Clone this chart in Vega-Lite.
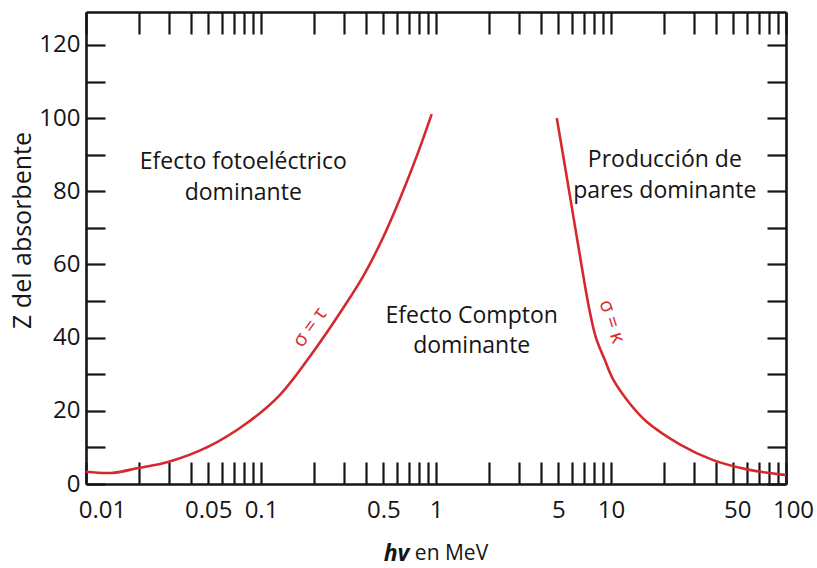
{
  "$schema": "https://vega.github.io/schema/vega-lite/v6.json",
  "width": 700,
  "height": 472,
  "autosize": {"type": "none"},
  "padding": {"left": 86, "top": 12, "right": 31, "bottom": 84},
  "background": "white",
  "config": {
    "view": {"stroke": null},
    "font": "Open Sans",
    "axis": {
      "grid": false,
      "domainColor": "#151515",
      "domainWidth": 2.6,
      "tickColor": "#151515",
      "tickWidth": 2.2,
      "labelFont": "Open Sans",
      "labelFontSize": 24,
      "labelColor": "#151515",
      "titleFont": "Open Sans",
      "titleFontSize": 21,
      "titleColor": "#151515",
      "titleFontWeight": "normal"
    }
  },
  "datasets": {
    "tau": [
      {"energy": 0.01, "z": 3.35},
      {"energy": 0.0143, "z": 3.05},
      {"energy": 0.0198, "z": 4.35},
      {"energy": 0.0294, "z": 6.0},
      {"energy": 0.05, "z": 10.2},
      {"energy": 0.0828, "z": 16.6},
      {"energy": 0.128, "z": 24.3},
      {"energy": 0.2, "z": 36.3},
      {"energy": 0.295, "z": 48.1},
      {"energy": 0.384, "z": 56.8},
      {"energy": 0.5, "z": 67.5},
      {"energy": 0.623, "z": 78.0},
      {"energy": 0.776, "z": 89.6},
      {"energy": 0.945, "z": 101.1}
    ],
    "kappa": [
      {"energy": 4.9, "z": 100},
      {"energy": 5.45, "z": 87},
      {"energy": 6.1, "z": 73},
      {"energy": 6.8, "z": 59.5},
      {"energy": 7.5, "z": 48},
      {"energy": 8.2, "z": 40},
      {"energy": 9.2, "z": 34},
      {"energy": 10.3, "z": 28.5},
      {"energy": 12.8, "z": 22},
      {"energy": 16, "z": 17},
      {"energy": 25, "z": 10.7},
      {"energy": 38, "z": 6.6},
      {"energy": 60, "z": 4.0},
      {"energy": 90, "z": 2.7},
      {"energy": 100, "z": 2.5}
    ],
    "regions": [
      {"energy": 0.0792, "z": 88.0, "label": "Efecto fotoeléctrico"},
      {"energy": 0.0792, "z": 79.6, "label": "dominante"},
      {"energy": 1.6, "z": 45.9, "label": "Efecto Compton"},
      {"energy": 1.6, "z": 37.6, "label": "dominante"},
      {"energy": 20.3, "z": 88.5, "label": "Producción de"},
      {"energy": 20.3, "z": 80.2, "label": "pares dominante"}
    ],
    "tauLabel": [{"energy": 0.1905, "z": 42.8, "label": "σ = τ"}],
    "kappaLabel": [{"energy": 10.1, "z": 44.4, "label": "σ = κ"}]
  },
  "layer": [
    {
      "data": {"name": "tau"},
      "mark": {"type": "line", "color": "#d42a2e", "strokeWidth": 2.6, "interpolate": "catmull-rom"},
      "encoding": {
        "x": {
          "field": "energy", "type": "quantitative",
          "scale": {"type": "log", "domain": [0.01, 100]},
          "axis": {
            "orient": "bottom",
            "values": [0.01,0.02,0.03,0.04,0.05,0.06,0.07,0.08,0.09,0.1,0.2,0.3,0.4,0.5,0.6,0.7,0.8,0.9,1,2,3,4,5,6,7,8,9,10,20,30,40,50,60,70,80,90,100],
            "format": "~g",
            "labelExpr": "indexof([0.01,0.05,0.1,0.5,1,5,10,50,100], datum.value) >= 0 ? datum.label : ''",
            "labelOffset": {"condition": [{"test": "datum.value < 0.011", "value": 16}, {"test": "datum.value > 95", "value": 7}, {"test": "datum.value > 45 && datum.value < 55", "value": 4}], "value": 0},
            "labelFlush": false,
            "tickSize": -22,
            "labelPadding": 36,
            "labelOverlap": false,
            "title": "hv",
            "titleFontSize": 23,
            "titleFontWeight": "bold",
            "titleFontStyle": "italic",
            "titleX": 310,
            "titleY": 69,
            "titleBaseline": "middle",
            "titleAlign": "center"
          }
        },
        "y": {
          "field": "z", "type": "quantitative",
          "scale": {"domain": [0, 129]},
          "axis": {
            "orient": "left",
            "values": [0,10,20,30,40,50,60,70,80,90,100,110,120],
            "labelExpr": "datum.value % 20 == 0 ? datum.label : ''",
            "tickSize": -19,
            "labelPadding": 25,
            "labelOverlap": false,
            "title": "Z del absorbente",
            "titleFontSize": 25,
            "titleX": -64,
            "titleY": 218,
            "titleAngle": -90,
            "titleBaseline": "middle",
            "titleAlign": "center"
          }
        }
      }
    },
    {
      "data": {"name": "kappa"},
      "mark": {"type": "line", "color": "#d42a2e", "strokeWidth": 2.6, "interpolate": "catmull-rom"},
      "encoding": {
        "x": {
          "field": "energy", "type": "quantitative",
          "scale": {"type": "log", "domain": [0.01, 100]},
          "axis": {
            "orient": "top",
            "values": [0.01,0.02,0.03,0.04,0.05,0.06,0.07,0.08,0.09,0.1,0.2,0.3,0.4,0.5,0.6,0.7,0.8,0.9,1,2,3,4,5,6,7,8,9,10,20,30,40,50,60,70,80,90,100],
            "labels": false,
            "tickSize": -22,
            "title": null
          }
        },
        "y": {
          "field": "z", "type": "quantitative",
          "scale": {"domain": [0, 129]},
          "axis": {
            "orient": "right",
            "values": [0,10,20,30,40,50,60,70,80,90,100,110,120],
            "labels": false,
            "tickSize": -19,
            "title": null
          }
        }
      }
    },
    {
      "data": {"name": "regions"},
      "mark": {"type": "text", "font": "Open Sans", "fontSize": 23, "align": "center", "baseline": "middle", "color": "#151515"},
      "encoding": {
        "x": {
          "field": "energy", "type": "quantitative",
          "scale": {"type": "log", "domain": [0.01, 100]},
          "axis": {
            "orient": "bottom",
            "domain": false,
            "ticks": false,
            "labels": false,
            "title": "en MeV",
            "titleFontSize": 21,
            "titleX": 365,
            "titleY": 69,
            "titleBaseline": "middle",
            "titleAlign": "center"
          }
        },
        "y": {
          "field": "z", "type": "quantitative",
          "scale": {"domain": [0, 129]},
          "axis": null
        },
        "text": {"field": "label"}
      }
    },
    {
      "data": {"name": "tauLabel"},
      "mark": {"type": "text", "font": "Open Sans", "fontSize": 20, "angle": -54, "align": "center", "baseline": "middle", "color": "#d42a2e"},
      "encoding": {
        "x": {"field": "energy", "type": "quantitative", "scale": {"type": "log", "domain": [0.01, 100]}, "axis": null},
        "y": {"field": "z", "type": "quantitative", "scale": {"domain": [0, 129]}, "axis": null},
        "text": {"field": "label"}
      }
    },
    {
      "data": {"name": "kappaLabel"},
      "mark": {"type": "text", "font": "Open Sans", "fontSize": 20, "angle": 72, "align": "center", "baseline": "middle", "color": "#d42a2e"},
      "encoding": {
        "x": {"field": "energy", "type": "quantitative", "scale": {"type": "log", "domain": [0.01, 100]}, "axis": null},
        "y": {"field": "z", "type": "quantitative", "scale": {"domain": [0, 129]}, "axis": null},
        "text": {"field": "label"}
      }
    }
  ],
  "resolve": {"axis": {"x": "independent", "y": "independent"}}
}
